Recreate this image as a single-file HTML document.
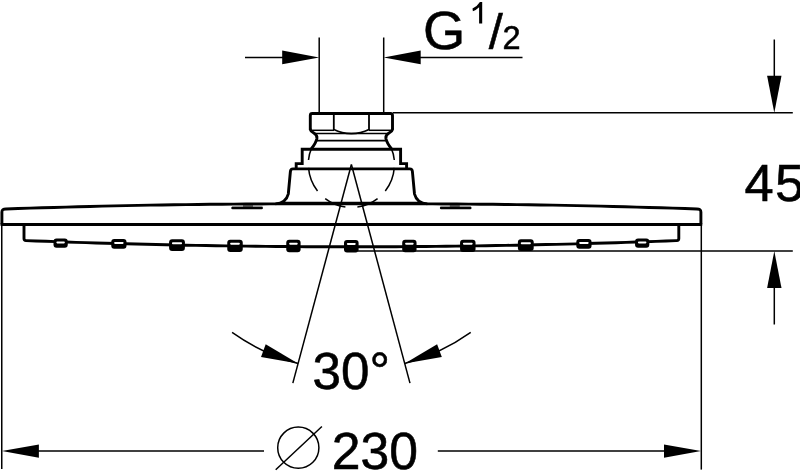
<!DOCTYPE html>
<html><head><meta charset="utf-8"><title>Dimension drawing</title>
<style>
html,body{margin:0;padding:0;background:#fff;}
body{width:800px;height:471px;overflow:hidden;position:relative;font-family:"Liberation Sans",sans-serif;color:#000;}
svg{position:absolute;left:0;top:0;will-change:transform;}
text{font-family:"Liberation Sans",sans-serif;fill:#000;}
.t{position:absolute;white-space:nowrap;line-height:1;font-family:"Liberation Sans",sans-serif;color:#000;}
</style></head><body>
<svg width="800" height="471" viewBox="0 0 800 471">
<path d="M1.9 224.5 V212 Q1.9 208.9 6 208.94 L6.00 208.94 L18.00 208.53 L30.00 208.15 L42.00 207.78 L54.00 207.43 L66.00 207.09 L78.00 206.76 L90.00 206.46 L102.00 206.17 L114.00 205.89 L126.00 205.63 L138.00 205.39 L150.00 205.17 L162.00 204.96 L174.00 204.77 L186.00 204.60 L198.00 204.44 L210.00 204.30 L222.00 204.18 L234.00 204.09 L246.00 204.01 L258.00 203.95 L270.00 203.91 L280.00 203.90 L422.80 203.90 L432.80 203.91 L444.80 203.95 L456.80 204.01 L468.80 204.09 L480.80 204.18 L492.80 204.30 L504.80 204.44 L516.80 204.60 L528.80 204.77 L540.80 204.96 L552.80 205.17 L564.80 205.39 L576.80 205.63 L588.80 205.89 L600.80 206.17 L612.80 206.46 L624.80 206.76 L636.80 207.09 L648.80 207.43 L660.80 207.78 L672.80 208.15 L684.80 208.53 L696.80 208.94 Q700.9 208.9 700.9 212 V224.5" fill="none" stroke="#000" stroke-width="2.9" stroke-linejoin="round"/>
<path d="M0.6 224.5 H702.2" stroke="#000" stroke-width="2.9" fill="none"/>
<path d="M24 224.5 V238.50 Q24 240.50 26 240.58 L26.00 240.58 L36.00 240.95 L46.00 241.32 L56.00 241.67 L66.00 242.01 L76.00 242.34 L86.00 242.66 L96.00 242.97 L106.00 243.26 L116.00 243.54 L126.00 243.81 L136.00 244.07 L146.00 244.32 L156.00 244.56 L166.00 244.78 L176.00 244.99 L186.00 245.19 L196.00 245.38 L206.00 245.56 L216.00 245.72 L226.00 245.88 L236.00 246.02 L246.00 246.15 L256.00 246.27 L266.00 246.37 L276.00 246.47 L286.00 246.55 L296.00 246.62 L306.00 246.68 L316.00 246.73 L326.00 246.76 L336.00 246.79 L346.00 246.80 L356.00 246.80 L366.00 246.79 L376.00 246.76 L386.00 246.73 L396.00 246.68 L406.00 246.62 L416.00 246.55 L426.00 246.47 L436.00 246.38 L446.00 246.27 L456.00 246.16 L466.00 246.03 L476.00 245.89 L486.00 245.74 L496.00 245.57 L506.00 245.40 L516.00 245.21 L526.00 245.01 L536.00 244.80 L546.00 244.57 L556.00 244.34 L566.00 244.09 L576.00 243.84 L586.00 243.57 L596.00 243.28 L606.00 242.99 L616.00 242.69 L626.00 242.37 L636.00 242.04 L646.00 241.70 L656.00 241.35 L666.00 240.98 L676.00 240.61 L676.80 240.58 Q678.8 240.50 678.8 238.50 V224.5" fill="none" stroke="#000" stroke-width="2.9" stroke-linejoin="round"/>
<rect x="53.50" y="238.50" width="14.25" height="9.25" rx="3" ry="3" fill="#000"/>
<rect x="56.40" y="241.50" width="8.45" height="1.9" rx="0.8" fill="#fff"/>
<rect x="111.25" y="239.00" width="15.25" height="9.75" rx="3" ry="3" fill="#000"/>
<rect x="114.15" y="242.00" width="9.45" height="1.9" rx="0.8" fill="#fff"/>
<rect x="169.10" y="239.30" width="15.80" height="11.60" rx="3" ry="3" fill="#000"/>
<rect x="172.00" y="242.30" width="10.00" height="1.9" rx="0.8" fill="#fff"/>
<rect x="227.25" y="239.75" width="15.50" height="12.15" rx="3" ry="3" fill="#000"/>
<rect x="230.15" y="242.75" width="9.70" height="1.9" rx="0.8" fill="#fff"/>
<rect x="286.25" y="239.75" width="14.35" height="12.45" rx="3" ry="3" fill="#000"/>
<rect x="289.15" y="242.75" width="8.55" height="1.9" rx="0.8" fill="#fff"/>
<rect x="344.00" y="240.00" width="14.60" height="12.40" rx="3" ry="3" fill="#000"/>
<rect x="346.90" y="243.00" width="8.80" height="1.9" rx="0.8" fill="#fff"/>
<rect x="635.05" y="238.50" width="14.25" height="9.25" rx="3" ry="3" fill="#000"/>
<rect x="637.95" y="241.50" width="8.45" height="1.9" rx="0.8" fill="#fff"/>
<rect x="576.30" y="239.00" width="15.25" height="9.75" rx="3" ry="3" fill="#000"/>
<rect x="579.20" y="242.00" width="9.45" height="1.9" rx="0.8" fill="#fff"/>
<rect x="517.90" y="239.30" width="15.80" height="11.60" rx="3" ry="3" fill="#000"/>
<rect x="520.80" y="242.30" width="10.00" height="1.9" rx="0.8" fill="#fff"/>
<rect x="460.05" y="239.75" width="15.50" height="12.15" rx="3" ry="3" fill="#000"/>
<rect x="462.95" y="242.75" width="9.70" height="1.9" rx="0.8" fill="#fff"/>
<rect x="402.20" y="239.75" width="14.35" height="12.45" rx="3" ry="3" fill="#000"/>
<rect x="405.10" y="242.75" width="8.55" height="1.9" rx="0.8" fill="#fff"/>
<path d="M275.5 203.9 Q286 203 288.3 194 L290.4 171.5 Q290.6 168.9 293 168.9 H409.8 Q412.2 168.9 412.4 171.5 L414.5 194 Q416.8 203 427.3 203.9 M280 203.2 H422.8" fill="none" stroke="#000" stroke-width="2.9" stroke-linejoin="round"/>
<path d="M296.2 168.9 V163.6 H302.2 V149.2 H400.6 V163.6 H406.6 V168.9" fill="none" stroke="#000" stroke-width="2.9" stroke-linejoin="miter"/>
<path d="M310.3 129.4 Q310.6 131.2 313.8 133.1 Q317.4 135.2 316.9 138.5 Q316 143 311.4 148.6" fill="none" stroke="#000" stroke-width="2.9" stroke-linecap="round"/>
<path d="M311.4 148.6 Q309 154 308.5 160" fill="none" stroke="#000" stroke-width="1.5"/>
<path d="M392.5 129.4 Q392.2 131.2 389.0 133.1 Q385.4 135.2 385.9 138.5 Q386.8 143 391.4 148.6" fill="none" stroke="#000" stroke-width="2.9" stroke-linecap="round"/>
<path d="M391.4 148.6 Q393.8 154 394.3 160" fill="none" stroke="#000" stroke-width="1.5"/>
<path d="M317 140.6 H385.8" stroke="#000" stroke-width="1.6" fill="none"/>
<path d="M311 130.3 H334" stroke="#000" stroke-width="1.5" fill="none"/>
<path d="M391.8 130.3 H368.8" stroke="#000" stroke-width="1.5" fill="none"/>
<path d="M314 133.5 H388.8" stroke="#000" stroke-width="1.5" fill="none"/>
<path d="M310.3 129.6 V115.5 Q310.3 113.5 312.3 113.5 H390.5 Q392.5 113.5 392.5 115.5 V129.6" fill="none" stroke="#000" stroke-width="2.9"/>
<path d="M333.8 113.5 V129.5 Q342 133.6 351.4 133.6 Q360.8 133.6 369.0 129.5 V113.5" fill="none" stroke="#000" stroke-width="1.8"/>
<path d="M232.6 208 H261.6" stroke="#000" stroke-width="2.7" stroke-linecap="round" fill="none"/>
<path d="M232 206 H262.5" stroke="#8a8a8a" stroke-width="1.6" fill="none"/>
<path d="M243 206 H253" stroke="#333" stroke-width="1.6" fill="none"/>
<path d="M470.2 208 H441.2" stroke="#000" stroke-width="2.7" stroke-linecap="round" fill="none"/>
<path d="M470.8 206 H440.3" stroke="#8a8a8a" stroke-width="1.6" fill="none"/>
<path d="M459.8 206 H449.8" stroke="#333" stroke-width="1.6" fill="none"/>
<path d="M308.53 167.87 A43.0 43.0 0 0 0 317.52 190.97" fill="none" stroke="#000" stroke-width="1.5"/>
<path d="M325.22 198.61 A43.0 43.0 0 0 0 345.42 207.08" fill="none" stroke="#000" stroke-width="1.5"/>
<path d="M394.27 167.87 A43.0 43.0 0 0 1 385.28 190.97" fill="none" stroke="#000" stroke-width="1.5"/>
<path d="M377.58 198.61 A43.0 43.0 0 0 1 357.38 207.08" fill="none" stroke="#000" stroke-width="1.5"/>
<path d="M351.4 164.5 L292.83 383.09" stroke="#000" stroke-width="1.5" fill="none"/>
<path d="M298.08 363.48 A206.0 206.0 0 0 1 232.07 332.42" stroke="#000" stroke-width="1.5" fill="none"/>
<path d="M298.08 363.48 L265.69 344.35 L261.00 357.12 Z" fill="#000"/>
<path d="M351.4 164.5 L409.97 383.09" stroke="#000" stroke-width="1.5" fill="none"/>
<path d="M404.72 363.48 A206.0 206.0 0 0 0 470.73 332.42" stroke="#000" stroke-width="1.5" fill="none"/>
<path d="M404.72 363.48 L441.80 357.12 L437.11 344.35 Z" fill="#000"/>
<path d="M319.2 37.5 L319.2 113" stroke="#000" stroke-width="1.5" fill="none"/>
<path d="M383.7 37.5 L383.7 113" stroke="#000" stroke-width="1.5" fill="none"/>
<path d="M245 57.4 L285 57.4" stroke="#000" stroke-width="1.5" fill="none"/>
<path d="M419 57.4 L522.5 57.4" stroke="#000" stroke-width="1.5" fill="none"/>
<path d="M319.20 57.40 L282.20 50.60 L282.20 64.20 Z" fill="#000"/>
<path d="M383.70 57.40 L420.70 64.20 L420.70 50.60 Z" fill="#000"/>
<path d="M393 112.8 L792.8 112.8" stroke="#000" stroke-width="1.5" fill="none"/>
<path d="M358 251.1 L792.8 251.1" stroke="#000" stroke-width="1.5" fill="none"/>
<path d="M774.3 39.5 L774.3 78" stroke="#000" stroke-width="1.5" fill="none"/>
<path d="M774.3 285 L774.3 324.5" stroke="#000" stroke-width="1.5" fill="none"/>
<path d="M774.30 112.80 L781.50 75.80 L767.10 75.80 Z" fill="#000"/>
<path d="M774.30 251.10 L767.10 288.10 L781.50 288.10 Z" fill="#000"/>
<path d="M1.75 224.5 L1.75 469" stroke="#000" stroke-width="1.5" fill="none"/>
<path d="M701.3 224.5 L701.3 469.6" stroke="#000" stroke-width="1.5" fill="none"/>
<path d="M36 451.1 L264 451.1" stroke="#000" stroke-width="1.5" fill="none"/>
<path d="M437.8 451.1 L667 451.1" stroke="#000" stroke-width="1.5" fill="none"/>
<path d="M1.90 451.10 L38.90 457.70 L38.90 444.50 Z" fill="#000"/>
<path d="M701.00 451.10 L664.00 444.50 L664.00 457.70 Z" fill="#000"/>
<circle cx="298.3" cy="447.7" r="20.6" fill="none" stroke="#000" stroke-width="1.5"/>
<path d="M275.7 469.8 L321.9 426.5" stroke="#000" stroke-width="1.5" fill="none"/>
<text id="G" transform="translate(423.1 49.1) scale(1.0 1)" font-size="54.3" stroke="#000" stroke-width="0.55">G</text>
<text id="S" transform="translate(488.7 48.5) scale(1.0 1)" font-size="50.5" stroke="#000" stroke-width="0.55">/</text>
<text id="two" transform="translate(502.5 48.7) scale(1.0 1)" font-size="32.5" stroke="#000" stroke-width="0.55">2</text>
<text id="n45" transform="translate(744.4 201.1) scale(1.0 1)" font-size="52.5" stroke="#000" stroke-width="0.55" letter-spacing="1.3">45</text>
<text id="n30" transform="translate(312.6 388.6) scale(0.975 1)" font-size="52.5" stroke="#000" stroke-width="0.55">30°</text>
<text id="n230" transform="translate(331.8 468.6) scale(0.985 1)" font-size="52.5" stroke="#000" stroke-width="0.55">230</text>
<path id="one" d="M482.2 2 V23.6 H479.1 V7.2 Q476.4 9.9 472.9 11.2 L472.5 8.4 Q477.6 6 479.9 2 Z" fill="#000"/>
</svg>
</body></html>
